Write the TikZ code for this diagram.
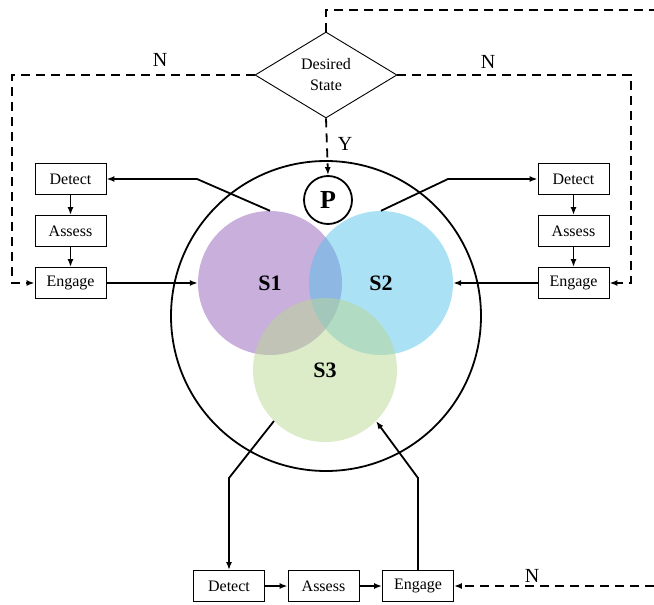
\documentclass[tikz,border=0pt]{standalone}
\usepackage{fontspec}
\setmainfont{Liberation Serif}
\usetikzlibrary{shapes.geometric,arrows.meta}
\definecolor{setone}{RGB}{145,95,185}
\definecolor{settwo}{RGB}{85,195,235}
\definecolor{setthree}{RGB}{185,215,145}
\tikzstyle{stage}=[draw,line width=0.9pt,minimum width=71pt,minimum height=31pt,inner sep=0pt,font=\fontsize{16}{16}\selectfont]
\tikzstyle{decision}=[draw,diamond,line width=0.9pt,minimum width=142pt,minimum height=86pt,inner sep=0pt,align=center,font=\fontsize{16}{21}\selectfont]
\tikzstyle{system}=[circle,minimum size=144pt,inner sep=0pt,fill opacity=0.5,text opacity=1,font=\fontsize{22}{22}\selectfont\bfseries]
\tikzstyle{flow}=[line width=1.8pt,-{Latex[length=8pt,width=6pt]}]
\tikzstyle{loop}=[line width=1.8pt,dash pattern=on 9pt off 6pt]
\tikzstyle{answer}=[font=\fontsize{20}{20}\selectfont]

\begin{document}
\begin{tikzpicture}[x=1pt,y=-1pt]
\useasboundingbox (0,0) rectangle (654,605);

\node[circle,draw,line width=1.8pt,minimum size=310pt] (env) at (326,316) {};
\node[circle,draw,line width=1.8pt,minimum size=48pt,inner sep=0pt,font=\fontsize{26}{26}\selectfont\bfseries] (p) at (328,200) {P};

\node[system,fill=setone] (s1) at (270,283) {S1};
\node[system,fill=settwo] (s2) at (381,283) {S2};
\node[system,fill=setthree] (s3) at (325,370) {S3};

\node[decision] (ds) at (326,75) {Desired\\State};

\node[stage] (ld) at (70.5,179) {Detect};
\node[stage] (la) at (70.5,231) {Assess};
\node[stage] (le) at (70.5,283) {Engage};

\node[stage] (rd) at (573.5,179) {Detect};
\node[stage] (ra) at (573.5,231) {Assess};
\node[stage] (re) at (573.5,283) {Engage};

\node[stage] (bd) at (229,586) {Detect};
\node[stage] (ba) at (323.5,586) {Assess};
\node[stage] (be) at (418,586) {Engage};

\coordinate (lb) at (197,179);
\coordinate (rb) at (448,179);
\coordinate (bb1) at (229,478);
\coordinate (bb2) at (418,478);

\draw[flow] (s1.north) -- (lb) -- (ld.east);
\draw[flow] (ld) -- (la);
\draw[flow] (la) -- (le);
\draw[flow] (le.east) -- (s1.west);

\draw[flow] (s2.north) -- (rb) -- (rd.west);
\draw[flow] (rd) -- (ra);
\draw[flow] (ra) -- (re);
\draw[flow] (re.west) -- (s2.east);

\draw[flow] (s3.225) -- (bb1) -- (bd.north);
\draw[flow] (bd) -- (ba);
\draw[flow] (ba) -- (be);
\draw[flow] (be.north) -- (bb2) -- (s3.-45);

\coordinate (t1) at (326,10);
\coordinate (t2) at (654,10);
\coordinate (nl1) at (12,75);
\coordinate (nl2) at (12,283);
\coordinate (nr1) at (631,75);
\coordinate (nr2) at (631,283);
\coordinate (nb) at (654,586);

\draw[loop] (ds.north) -- (t1) -- (t2);
\draw[loop,-{Latex[length=8pt,width=6pt]}] (ds.west) -- (nl1) -- (nl2) -- (le.west);
\draw[loop,-{Latex[length=8pt,width=6pt]}] (ds.east) -- (nr1) -- (nr2) -- (re.east);
\draw[loop,-{Latex[length=8pt,width=6pt]}] (ds.south) -- (p.north);
\draw[loop,-{Latex[length=8pt,width=6pt]}] (nb) -- (be.east);

\node[answer] (n1) at (160,60) {N};
\node[answer] (n2) at (488,62) {N};
\node[answer] (y1) at (345,144) {Y};
\node[answer] (n3) at (532,576) {N};

\end{tikzpicture}
\end{document}
